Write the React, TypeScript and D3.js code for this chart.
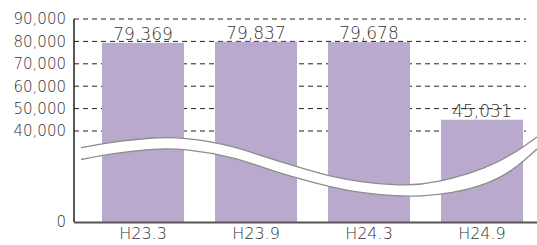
import React from 'react';
import * as d3 from 'd3';

const categories = ['H23.3', 'H23.9', 'H24.3', 'H24.9'];
const values = [79369, 79837, 79678, 45031];
const upperTicks = [40000, 50000, 60000, 70000, 80000, 90000];
const lowerTicks = [0];

// control points of the axis-break band (upper & lower edges)
const breakTop: [number, number][] = [
  [81, 147.7], [109, 142.3], [156, 137], [186, 137.7], [233, 145.5], [263, 156.5],
  [297, 166.7], [330, 176.5], [363, 182.3], [395, 185], [420, 185], [452, 179],
  [485, 168.3], [512, 155], [537, 137],
];
const breakBottom: [number, number][] = [
  [81, 159.5], [109, 154], [156, 148.3], [186, 149], [233, 157], [263, 167.5],
  [297, 178.3], [330, 187], [363, 193.3], [395, 196], [420, 196.5], [452, 193.3],
  [485, 185], [512, 171.7], [537, 149],
];

const W = 537;
const H = 245;
const axisX = 74;
const baseY = 222;
const gridRight = 526;
const barColor = '#b8a9cd';
const textColor = '#333';
const font = '"DejaVu Sans", sans-serif';

const fmt = d3.format(',');

const App: React.FC = () => {
  const x = d3
    .scaleBand<string>()
    .domain(categories)
    .range([axisX, 551])
    .paddingInner(0.274)
    .paddingOuter(0.248);

  // broken axis: upper part is linear 40,000 – 90,000
  const yUpper = d3.scaleLinear().domain([40000, 90000]).range([131, 19]);
  const yLower = d3.scaleLinear().domain([0, 40000]).range([baseY, 131]);
  const yPos = (v: number) => (v >= 40000 ? yUpper(v) : yLower(v));

  const line = d3.line().curve(d3.curveBasis);
  const band = line(breakTop)! + 'L' + line([...breakBottom].reverse())!.slice(1) + 'Z';

  return (
    <svg width={W} height={H} style={{ position: 'absolute', left: 0, top: 0 }}>
      <rect width={W} height={H} fill="#fff" />
      {upperTicks.map((t) => (
        <line
          key={'g' + t}
          x1={axisX}
          x2={gridRight}
          y1={yUpper(t)}
          y2={yUpper(t)}
          stroke="#222"
          strokeWidth={1}
          strokeDasharray="5,4"
        />
      ))}
      {categories.map((c, i) => (
        <rect
          key={c}
          x={x(c)!}
          y={yPos(values[i])}
          width={x.bandwidth()}
          height={baseY - yPos(values[i])}
          fill={barColor}
        />
      ))}
      <path d={band} fill="#fff" stroke="none" />
      <path d={line(breakTop)!} fill="none" stroke="#8c8c8c" strokeWidth={1.3} />
      <path d={line(breakBottom)!} fill="none" stroke="#8c8c8c" strokeWidth={1.3} />
      <line x1={axisX} x2={axisX} y1={yUpper(90000)} y2={baseY} stroke="#222" strokeWidth={1.5} />
      <line x1={axisX} x2={W} y1={baseY + 0.5} y2={baseY + 0.5} stroke="#555" strokeWidth={2} />
      {upperTicks.map((t) => (
        <text
          key={'t' + t}
          x={66}
          y={yUpper(t)}
          dy="0.36em"
          textAnchor="end"
          fontFamily={font}
          fontWeight={200}
          fontSize={15}
          fill={textColor}
        >
          {fmt(t)}
        </text>
      ))}
      {lowerTicks.map((t) => (
        <text
          key={'l' + t}
          x={66}
          y={yLower(t)}
          dy="0.36em"
          textAnchor="end"
          fontFamily={font}
          fontWeight={200}
          fontSize={15}
          fill={textColor}
        >
          {fmt(t)}
        </text>
      ))}
      {categories.map((c, i) => (
        <text
          key={'v' + c}
          x={x(c)! + x.bandwidth() / 2}
          y={yPos(values[i]) - 3}
          textAnchor="middle"
          fontFamily={font}
          fontWeight={200}
          fontSize={17}
          fill={textColor}
        >
          {fmt(values[i])}
        </text>
      ))}
      {categories.map((c) => (
        <text
          key={'x' + c}
          x={x(c)! + x.bandwidth() / 2}
          y={239}
          textAnchor="middle"
          fontFamily={font}
          fontWeight={200}
          fontSize={16}
          fill={textColor}
        >
          {c}
        </text>
      ))}
    </svg>
  );
};

export default App;
